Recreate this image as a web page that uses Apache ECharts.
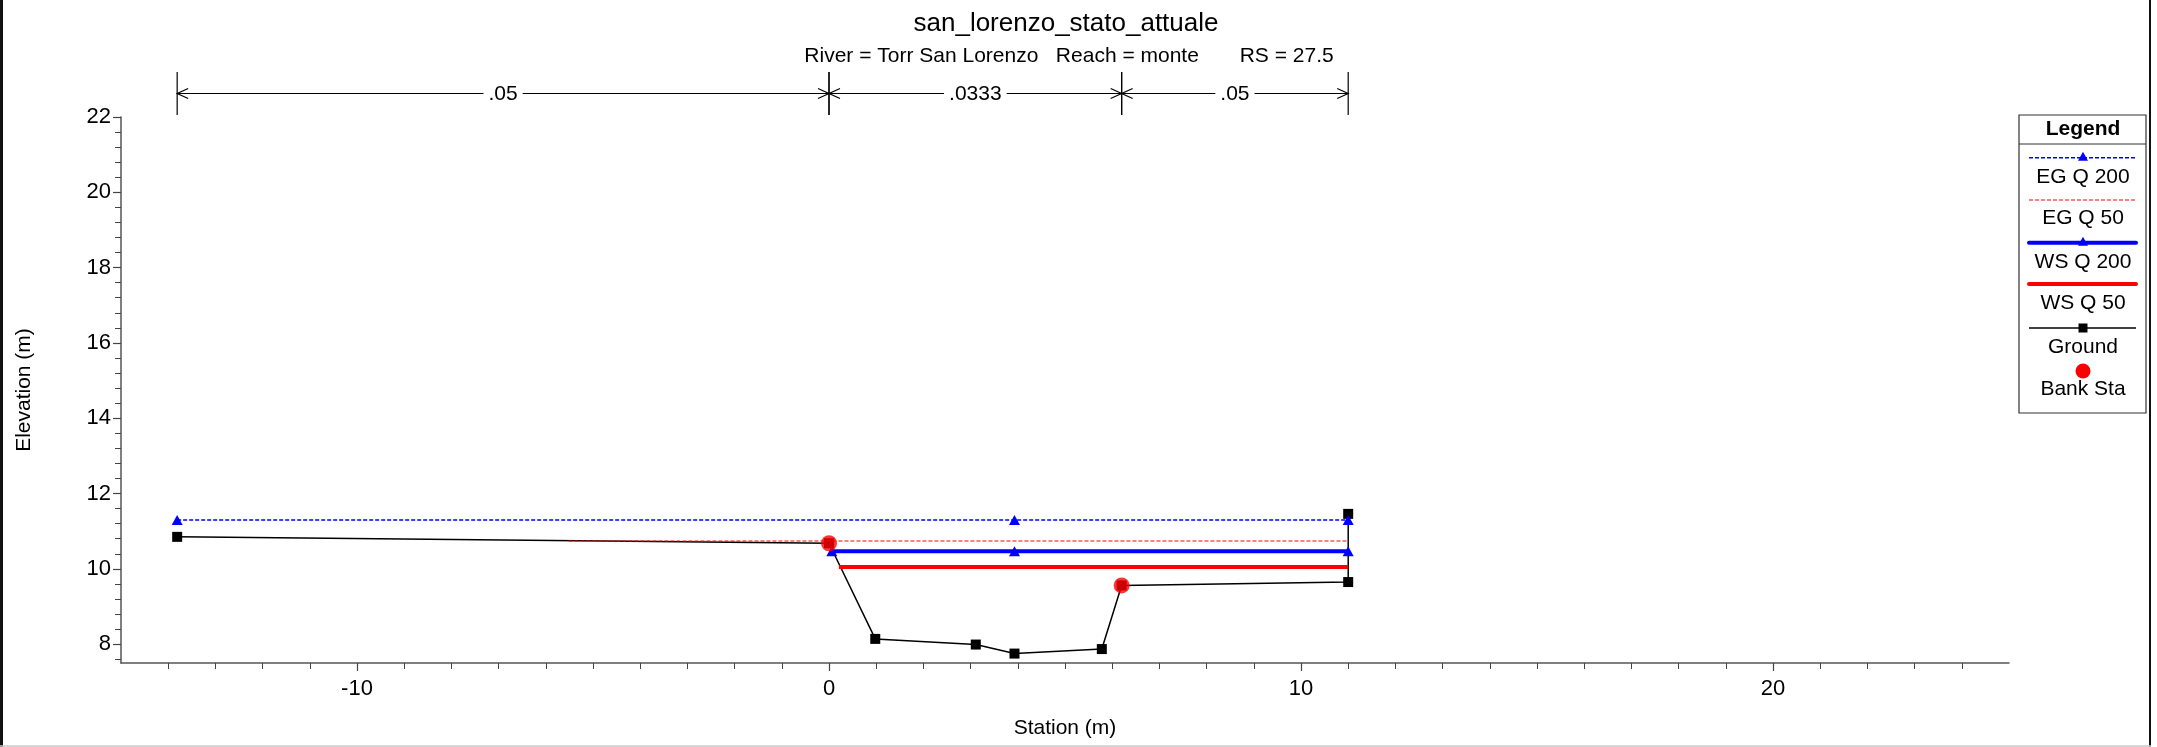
<!DOCTYPE html>
<html>
<head>
<meta charset="utf-8">
<script src="https://cdn.jsdelivr.net/npm/echarts@6/dist/echarts.min.js"></script>
<style>
html,body{margin:0;padding:0;background:#fff;}
#chart{width:2157px;height:747px;}
</style>
</head>
<body>
<div id="chart"></div>
<script>
// ---------- DATA ----------
const chartTitle = 'san_lorenzo_stato_attuale';
const chartSubtitle = 'River = Torr San Lorenzo   Reach = monte       RS = 27.5';
const seriesNames = ['EG Q 200', 'EG Q 50', 'WS Q 200', 'WS Q 50', 'Ground', 'Bank Sta'];

const groundX = [-13.81, 0, 0.98, 3.11, 3.93, 5.78, 6.2, 11, 11];
const groundY = [10.85, 10.68, 8.14, 7.99, 7.75, 7.87, 9.56, 9.65, 11.46];

const egQ200X = [-13.81, 3.93, 11];
const egQ200Y = [11.30, 11.30, 11.30];
const egQ50X = [-5.52, 11];
const egQ50Y = [10.74, 10.74];
const wsQ200X = [0.06, 3.93, 11];
const wsQ200Y = [10.47, 10.47, 10.47];
const wsQ50X = [0.21, 11];
const wsQ50Y = [10.05, 10.05];

const bankX = [0, 6.2];
const bankY = [10.68, 9.56];

const nBreaks = [-13.81, 0, 6.2, 11];
const nValues = ['.05', '.0333', '.05'];

const xTickLabels = [-10, 0, 10, 20];
const yTickLabels = [8, 10, 12, 14, 16, 18, 20, 22];
const xMin = -15, xMax = 25, yMin = 7.5, yMax = 22;

// ---------- BUILD ----------
const zip = (xs, ys) => xs.map((x, i) => [x, ys[i]]);
const xMinor = [];
for (let v = -14; v <= 24; v++) xMinor.push(v);
const yMinor = [];
for (let k = 0; k <= 36; k++) yMinor.push(+(7.6 + 0.4 * k).toFixed(1));

const FONT = '"Liberation Sans", Arial, sans-serif';
const BLUE = '#0000ff', RED = '#ff0000';

const chart = echarts.init(document.getElementById('chart'), null, {renderer: 'canvas'});

const nData = nValues.map((v, i) => [nBreaks[i], nBreaks[i + 1], i]);

// Legend (drawn as graphic box, HEC-RAS style)
const lg = {x0: 2019, x1: 2146, y0: 115, y1: 413, lx0: 2029, lx1: 2136, cx: 2083};
const legendStyle = [
  {lineY: 157.7, textY: 177, color: BLUE, width: 1.5, dash: [4, 2], sym: 'tri'},
  {lineY: 200, textY: 218, color: RED, width: 1.2, dash: [4, 2], sym: null},
  {lineY: 242.7, textY: 262, color: BLUE, width: 4, dash: null, sym: 'tri'},
  {lineY: 284, textY: 303, color: RED, width: 4, dash: null, sym: null},
  {lineY: 328, textY: 347, color: '#000', width: 1.5, dash: null, sym: 'sq'},
  {lineY: 371, textY: 389, color: RED, width: 0, dash: null, sym: 'circ'}
];
const legendChildren = [
  {type: 'rect', shape: {x: lg.x0, y: lg.y0, width: lg.x1 - lg.x0, height: lg.y1 - lg.y0},
   style: {fill: '#fff', stroke: '#333', lineWidth: 1.2}},
  {type: 'text', x: lg.cx, y: 129, style: {text: 'Legend', font: 'bold 21px ' + FONT, fill: '#000', align: 'center', verticalAlign: 'middle'}},
  {type: 'line', shape: {x1: lg.x0, y1: 144, x2: lg.x1, y2: 144}, style: {stroke: '#333', lineWidth: 1}}
];
legendStyle.forEach((s, i) => {
  if (s.width > 0) {
    legendChildren.push({type: 'line', shape: {x1: lg.lx0, y1: s.lineY, x2: lg.lx1, y2: s.lineY},
      style: {stroke: s.color, lineWidth: s.width, lineDash: s.dash || null, lineCap: s.width > 2 ? 'round' : 'butt'}});
  }
  if (s.sym === 'tri') {
    legendChildren.push({type: 'polygon', shape: {points: [[lg.cx, s.lineY - 6], [lg.cx - 5, s.lineY + 3], [lg.cx + 5, s.lineY + 3]]}, style: {fill: s.color}});
  } else if (s.sym === 'sq') {
    legendChildren.push({type: 'rect', shape: {x: lg.cx - 4.5, y: s.lineY - 4.5, width: 9, height: 9}, style: {fill: '#000'}});
  } else if (s.sym === 'circ') {
    legendChildren.push({type: 'circle', shape: {cx: lg.cx, cy: s.lineY, r: 7.5}, style: {fill: RED}});
  }
  legendChildren.push({type: 'text', x: lg.cx, y: s.textY, style: {text: seriesNames[i], font: '21px ' + FONT, fill: '#000', align: 'center', verticalAlign: 'middle'}});
});

const option = {
  animation: false,
  backgroundColor: '#fff',
  grid: {left: 121, right: 148, top: 117, bottom: 84, containLabel: false},
  xAxis: [
    {
      type: 'value', min: xMin, max: xMax, position: 'bottom',
      name: 'Station (m)', nameLocation: 'middle', nameGap: 55,
      nameTextStyle: {fontFamily: FONT, fontSize: 21, color: '#000'},
      axisLine: {show: true, onZero: false, lineStyle: {color: '#555', width: 1.5}},
      axisTick: {show: true, length: 8, customValues: xTickLabels, lineStyle: {color: '#444', width: 1.2}},
      axisLabel: {show: true, customValues: xTickLabels, margin: 15, fontFamily: FONT, fontSize: 22, color: '#000'},
      splitLine: {show: false}
    },
    {
      type: 'value', min: xMin, max: xMax, position: 'bottom',
      axisLine: {show: false, onZero: false},
      axisTick: {show: true, length: 6, customValues: xMinor, lineStyle: {color: '#444', width: 1}},
      axisLabel: {show: false},
      splitLine: {show: false}
    }
  ],
  yAxis: [
    {
      type: 'value', min: yMin, max: yMax, position: 'left',
      name: 'Elevation (m)', nameLocation: 'middle', nameGap: 86, nameRotate: 90,
      nameTextStyle: {fontFamily: FONT, fontSize: 21, color: '#000'},
      axisLine: {show: true, onZero: false, lineStyle: {color: '#555', width: 1.5}},
      axisTick: {show: true, length: 8, customValues: yTickLabels, lineStyle: {color: '#444', width: 1.2}},
      axisLabel: {show: true, customValues: yTickLabels, margin: 10, fontFamily: FONT, fontSize: 22, color: '#000'},
      splitLine: {show: false}
    },
    {
      type: 'value', min: yMin, max: yMax, position: 'left',
      axisLine: {show: false, onZero: false},
      axisTick: {show: true, length: 6, customValues: yMinor, lineStyle: {color: '#444', width: 1}},
      axisLabel: {show: false},
      splitLine: {show: false}
    }
  ],
  graphic: [
    {type: 'rect', shape: {x: 0, y: 0, width: 3, height: 747}, style: {fill: '#111'}, z: 100},
    {type: 'rect', shape: {x: 2149, y: 0, width: 2, height: 747}, style: {fill: '#111'}, z: 100},
    {type: 'line', shape: {x1: 0, y1: 746, x2: 2151, y2: 746}, style: {stroke: '#c8c8c8', lineWidth: 1.5}, z: 100},
    {type: 'text', x: 1066, y: 24, style: {text: chartTitle, font: '26px ' + FONT, fill: '#000', align: 'center', verticalAlign: 'middle'}},
    {type: 'text', x: 1069, y: 56, style: {text: chartSubtitle, font: '21px ' + FONT, fill: '#000', align: 'center', verticalAlign: 'middle'}},
    {type: 'group', children: legendChildren}
  ],
  series: [
    {
      name: 'Ground', type: 'line', data: zip(groundX, groundY), z: 2,
      lineStyle: {color: '#000', width: 1.5}, itemStyle: {color: '#000'},
      symbol: 'rect', symbolSize: 10, showSymbol: true, showAllSymbol: true
    },
    {
      name: 'WS Q 50', type: 'line', data: zip(wsQ50X, wsQ50Y), z: 3,
      lineStyle: {color: RED, width: 4}, itemStyle: {color: RED}, symbol: 'none'
    },
    {
      name: 'WS Q 200', type: 'line', data: zip(wsQ200X, wsQ200Y), z: 4,
      lineStyle: {color: BLUE, width: 4}, itemStyle: {color: BLUE},
      symbol: 'triangle', symbolSize: [11, 10], showAllSymbol: true
    },
    {
      name: 'EG Q 50', type: 'line', data: zip(egQ50X, egQ50Y), z: 5,
      lineStyle: {color: RED, width: 1.2, type: [4, 2]}, itemStyle: {color: RED}, symbol: 'none'
    },
    {
      name: 'EG Q 200', type: 'line', data: zip(egQ200X, egQ200Y), z: 6,
      lineStyle: {color: BLUE, width: 1.5, type: [4, 2]}, itemStyle: {color: BLUE},
      symbol: 'triangle', symbolSize: [11, 10], showAllSymbol: true
    },
    {
      name: 'Bank Sta', type: 'scatter', data: zip(bankX, bankY), z: 7,
      symbol: 'circle', symbolSize: 16, itemStyle: {color: RED}
    },
    {
      name: 'n values', type: 'custom', data: nData, clip: false, z: 8,
      encode: {x: [0, 1]},
      renderItem: function (params, api) {
        const a = api.coord([api.value(0), yMax])[0];
        const b = api.coord([api.value(1), yMax])[0];
        const yT = 72, yB = 115, yM = 93.5;
        const ls = {stroke: '#000', lineWidth: 1.2, fill: null};
        return {
          type: 'group',
          children: [
            {type: 'line', shape: {x1: a, y1: yT, x2: a, y2: yB}, style: ls},
            {type: 'line', shape: {x1: b, y1: yT, x2: b, y2: yB}, style: ls},
            {type: 'line', shape: {x1: a, y1: yM, x2: b, y2: yM}, style: ls},
            {type: 'polyline', shape: {points: [[a + 11, yM - 5], [a, yM], [a + 11, yM + 5]]}, style: ls},
            {type: 'polyline', shape: {points: [[b - 11, yM - 5], [b, yM], [b - 11, yM + 5]]}, style: ls},
            {type: 'text', x: (a + b) / 2, y: yM + 1, style: {
              text: nValues[api.value(2)], font: '21px ' + FONT, fill: '#000',
              align: 'center', verticalAlign: 'middle', backgroundColor: '#fff', padding: [0, 5]
            }}
          ]
        };
      }
    }
  ]
};
chart.setOption(option);
</script>
</body>
</html>
